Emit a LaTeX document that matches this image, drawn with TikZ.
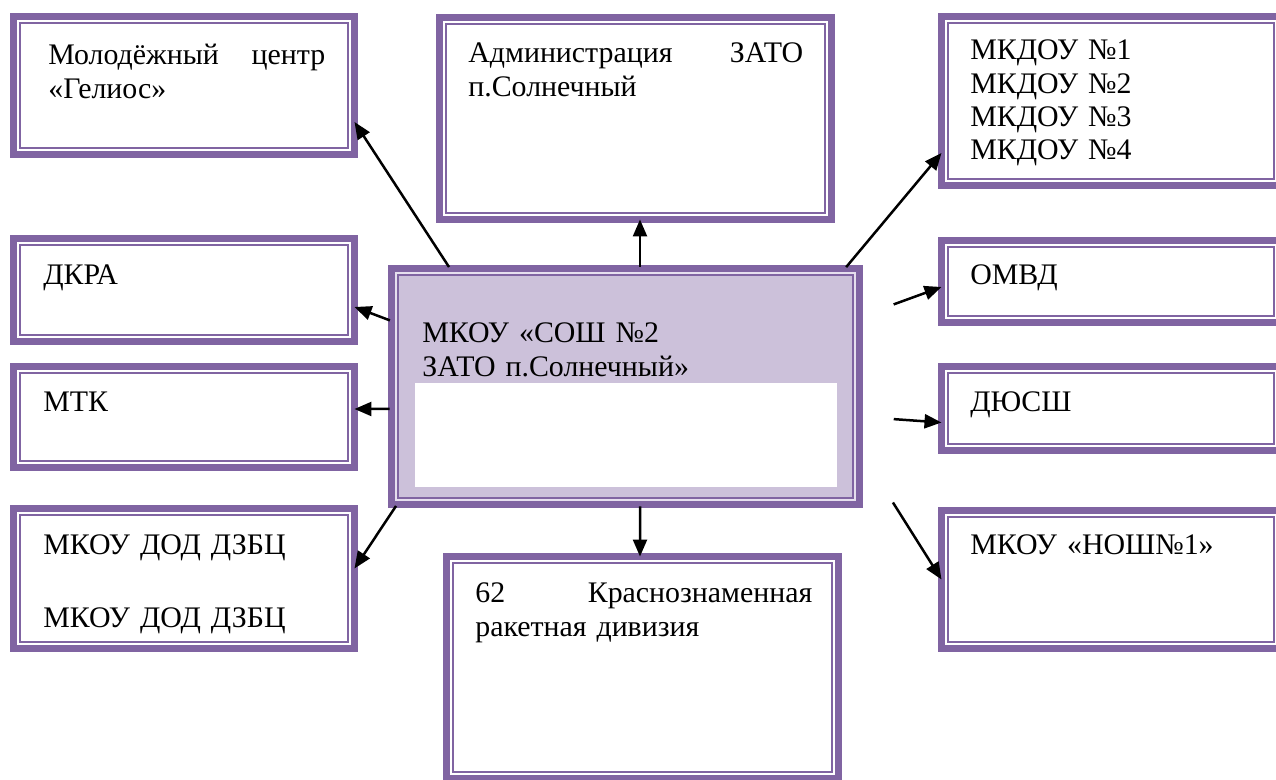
\documentclass[tikz,border=0pt]{standalone}
\usepackage{fontspec}
\setmainfont{Liberation Serif}
\usetikzlibrary{arrows.meta,calc}
\definecolor{orgpurple}{HTML}{8064A2}
\definecolor{orglilac}{HTML}{CCC1DA}
\definecolor{orgpale}{HTML}{E6DFEE}

\tikzset{
  orgfill/.store in=\orgfillcolor, orgfill=white,
  orgbox/.style={draw=orgpurple, line width=0.14cm, fill=white,
    inner sep=0, outer sep=0,
    path picture={\draw[orgpurple, line width=0.03cm, fill=\orgfillcolor]
      ([shift={(0.13cm,-0.13cm)}]path picture bounding box.north west) rectangle
      ([shift={(-0.13cm,0.13cm)}]path picture bounding box.south east);}},
  boxwh/.style 2 args={minimum width=#1*0.02cm, minimum height=#2*0.02cm},
  boxtext/.style={anchor=base west, inner sep=0, align=left,
    font=\fontsize{17}{18.8}\selectfont},
  link/.style={-{Triangle[length=0.34cm,width=0.28cm]}, line width=0.05cm,
    shorten <=1pt}
}

\begin{document}
\begin{tikzpicture}[x=0.02cm,y=-0.02cm]
  \useasboundingbox (0,0) rectangle (1276,780);
  \clip (0,0) rectangle (1276,780);

  % left column
  \node[orgbox, boxwh={341}{138}] (molod) at (184,85.5) {};
  \node[orgbox, boxwh={341}{103}] (dkra) at (184,290) {};
  \node[orgbox, boxwh={341}{101}] (mtk) at (184,417) {};
  \node[orgbox, boxwh={341}{140}] (dzbc) at (184,578.5) {};

  % middle column
  \node[orgbox, orgfill=white, boxwh={392}{202}] (admin) at (635.5,118.5) {};
  \node[orgbox, orgfill=orglilac, fill=orgpale, boxwh={468}{236}] (sosh) at (625.5,386.5) {};
  \fill[white] (415,383) rectangle (837,487);
  \node[orgbox, orgfill=white, boxwh={392}{222}] (div) at (642.5,667.5) {};

  % right column
  \node[orgbox, boxwh={339}{169}] (mkdou) at (1111,101) {};
  \node[orgbox, boxwh={339}{82}] (omvd) at (1111,281.5) {};
  \node[orgbox, boxwh={339}{84}] (dyussh) at (1111,408.5) {};
  \node[orgbox, boxwh={339}{138}] (nosh) at (1111,579.5) {};

  % texts
  \node[boxtext, text width=5.54cm] (molod-t) at (48,65)
    {Молодёжный\hfill центр\\«Гелиос»};
  \node[boxtext, text width=5cm] (dkra-t) at (43,285) {ДКРА};
  \node[boxtext, text width=5cm] (mtk-t) at (43,412) {МТК};
  \node[boxtext, text width=5cm] (dzbc-t) at (43,555)
    {МКОУ ДОД ДЗБЦ\\[0.78cm]МКОУ ДОД ДЗБЦ};
  \node[boxtext, text width=6.7cm] (admin-t) at (468,63)
    {Администрация\hfill ЗАТО\\п.Солнечный};
  \node[boxtext, text width=8cm] (sosh-t) at (422,343)
    {МКОУ «СОШ №2\\ЗАТО п.Солнечный»};
  \node[boxtext, text width=6.74cm] (div-t) at (475,603)
    {62\hfill Краснознаменная\\ракетная дивизия};
  \node[boxtext, text width=5cm] (mkdou-t) at (970,60)
    {МКДОУ №1\\МКДОУ №2\\МКДОУ №3\\МКДОУ №4};
  \node[boxtext, text width=5cm] (omvd-t) at (970,285) {ОМВД};
  \node[boxtext, text width=5cm] (dyussh-t) at (970,412) {ДЮСШ};
  \node[boxtext, text width=5cm] (nosh-t) at (970,555) {МКОУ «НОШ№1»};

  % links
  \draw[link] ($(sosh.north west)+(58.5,0)$) -- ($(molod.north east)+(0,105.5)$);
  \draw[link] ($(sosh.north)+(14.5,0)$) -- ($(admin.south)+(4.5,0)$);
  \draw[link] ($(sosh.north east)+(-14.5,0)$) -- ($(mkdou.west)+(0,52)$);
  \draw[link] ($(sosh.west)+(0,-65.5)$) -- ($(dkra.east)+(0,17)$);
  \draw[link] ($(sosh.west)+(0,22.5)$) -- ($(mtk.east)+(0,-8)$);
  \draw[link] ($(sosh.south west)+(5.5,0)$) -- ($(dzbc.east)+(0,-10)$);
  \draw[link] ($(sosh.south)+(14.5,0)$) -- ($(div.north)+(-2.5,0)$);

  \coordinate (f1) at (892,305);
  \coordinate (f2) at (892,419);
  \coordinate (f3) at (892,501);
  \draw[link] (f1) -- ($(omvd.west)+(0,5.5)$);
  \draw[link] (f2) -- ($(dyussh.west)+(0,14)$);
  \draw[link] (f3) -- (nosh.west);
\end{tikzpicture}
\end{document}
